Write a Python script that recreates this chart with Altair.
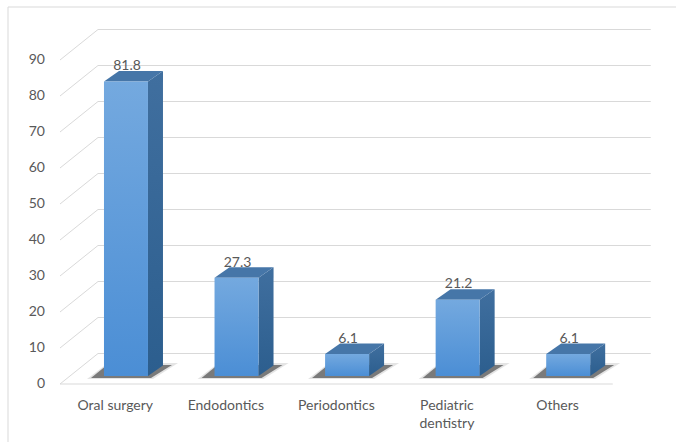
import altair as alt
import pandas as pd

# Share of cases by dental specialty (%)
categories = ["Oral surgery", "Endodontics", "Periodontics", "Pediatric\ndentistry", "Others"]
values = [81.8, 27.3, 6.1, 21.2, 6.1]
y_ticks = [0, 10, 20, 30, 40, 50, 60, 70, 80, 90]

# Plot geometry (data units of the x and y scales)
W, H = 597, 360
X_MAX, Y_MAX = 5.4, 100.0
PX_X = W / X_MAX          # pixels per x unit
PX_Y = H / Y_MAX          # pixels per y unit
WALL_DX, WALL_DY = 38 / PX_X, 30.5 / PX_Y    # depth of the floor / side wall
BAR_SHIFT = 10.7 / PX_X   # bars stand half-way into the floor
BAR_LIFT = 8 / PX_Y
BAR_HALF = 22 / PX_X
BAR_DX, BAR_DY = 15 / PX_X, 10.5 / PX_Y      # visible depth of each bar

FONT = "Lato"
TEXT = "#595959"
GRID = "#d9d9d9"

xs = alt.Scale(domain=[0, X_MAX], nice=False, zero=False)
ys = alt.Scale(domain=[0, Y_MAX], nice=False, zero=False)

bars = []
for i, (c, v) in enumerate(zip(categories, values)):
    mid = i + 0.5 + BAR_SHIFT
    bars.append(dict(cat=c, value=v, idx=i,
                     left=mid - BAR_HALF, right=mid + BAR_HALF, mid=mid,
                     base=BAR_LIFT, top=v + BAR_LIFT))
bar_df = pd.DataFrame(bars)


def px(dx=0.0, dy=0.0):
    return dx / PX_X, dy / PX_Y


side_rows, top_rows, shadow_rows, halo_rows = [], [], [], []
for b in bars:
    L, R, B, T = b["left"], b["right"], b["base"], b["top"]
    side_rows += [
        dict(cat=b["cat"], x=R, y=T, y2=B),
        dict(cat=b["cat"], x=R + BAR_DX, y=T + BAR_DY, y2=B + BAR_DY),
    ]
    top_rows += [
        dict(cat=b["cat"], y=T, x=L, x2=R),
        dict(cat=b["cat"], y=T + BAR_DY, x=L + BAR_DX, x2=R + BAR_DX),
    ]
    shadow_rows += [
        dict(cat=b["cat"], y=B - px(dy=2)[1], x=L - px(13)[0], x2=R + px(3)[0]),
        dict(cat=b["cat"], y=B + px(dy=11)[1], x=L + px(3)[0], x2=R + px(24)[0]),
    ]
    halo_rows += [
        dict(cat=b["cat"], y=B - px(dy=3)[1], x=L - px(17)[0], x2=R + px(5)[0]),
        dict(cat=b["cat"], y=B + px(dy=13)[1], x=L + px(4)[0], x2=R + px(30)[0]),
    ]
side_df = pd.DataFrame(side_rows)
top_df = pd.DataFrame(top_rows)
shadow_df = pd.DataFrame(shadow_rows)
halo_df = pd.DataFrame(halo_rows)

tick_df = pd.DataFrame(dict(t=y_ticks))
tick_df["tb"] = tick_df["t"] + WALL_DY
tick_df["x0"] = 0.0
tick_df["xb"] = WALL_DX
tick_df["xe"] = 5 + WALL_DX
tick_df["lab"] = tick_df["t"].astype(str)

floor_df = pd.DataFrame(dict(y=[0.0], x=[0.0], x2=[5.0]))
label_df = pd.DataFrame(dict(cat=categories, pos=[i + 0.5 for i in range(len(categories))]))

front_fill = alt.Gradient(gradient="linear", x1=0, x2=0, y1=0, y2=1,
                          stops=[alt.GradientStop(color="#74a9df", offset=0),
                                 alt.GradientStop(color="#4b8ed5", offset=1)])
side_fill = alt.Gradient(gradient="linear", x1=0, x2=0, y1=0, y2=1,
                         stops=[alt.GradientStop(color="#406f9f", offset=0),
                                alt.GradientStop(color="#2c5e8e", offset=1)])

X = lambda f: alt.X(f, scale=xs, axis=None)
Y = lambda f: alt.Y(f, scale=ys, axis=None)

frame = alt.Chart(floor_df).mark_rect(fill="white", stroke=GRID, strokeWidth=1).encode(
    x=alt.value(-52), x2=alt.value(640), y=alt.value(-17), y2=alt.value(430))

wall_grid = alt.Chart(tick_df).mark_rule(color=GRID, strokeWidth=1).encode(
    x=X("xb:Q"), x2="xe:Q", y=Y("tb:Q"))

side_grid = alt.Chart(tick_df).mark_rule(color=GRID, strokeWidth=1).encode(
    x=X("x0:Q"), x2="xb:Q", y=Y("t:Q"), y2="tb:Q")

tick_labels = alt.Chart(tick_df).mark_text(
    font=FONT, fontSize=14, color=TEXT, align="right", baseline="middle").encode(
    x=alt.value(-15), y=Y("t:Q"), text="lab:N")

floor_line = alt.Chart(floor_df).mark_rule(color=GRID, strokeWidth=1).encode(
    x=X("x:Q"), x2="x2:Q", y=Y("y:Q"))

halo = alt.Chart(halo_df).mark_area(orient="horizontal", color="#7a7a7a", opacity=0.2).encode(
    y=Y("y:Q"), x=X("x:Q"), x2="x2:Q", detail="cat:N")

shadow = alt.Chart(shadow_df).mark_area(orient="horizontal", color="#333333", opacity=0.6).encode(
    y=Y("y:Q"), x=X("x:Q"), x2="x2:Q", detail="cat:N")

side = alt.Chart(side_df).mark_area(color=side_fill).encode(
    x=X("x:Q"), y=Y("y:Q"), y2="y2:Q", detail="cat:N")

top = alt.Chart(top_df).mark_area(orient="horizontal", color="#4676a8").encode(
    y=Y("y:Q"), x=X("x:Q"), x2="x2:Q", detail="cat:N")

front = alt.Chart(bar_df).mark_rect(color=front_fill).encode(
    x=X("left:Q"), x2="right:Q", y=Y("base:Q"), y2="top:Q")

value_labels = alt.Chart(bar_df).transform_calculate(
    ly=f"datum.top + {BAR_DY} + 0.2",
    lx=f"datum.mid + {1 / PX_X}").mark_text(
    font=FONT, fontSize=14, color=TEXT, baseline="alphabetic", align="center").encode(
    x=X("lx:Q"), y=Y("ly:Q"),
    text=alt.Text("value:Q", format=".1f"))

cat_labels = alt.Chart(label_df).mark_text(
    font=FONT, fontSize=14, color=TEXT, baseline="alphabetic", align="center",
    lineBreak="\n", lineHeight=18).encode(
    x=X("pos:Q"), y=alt.value(386), text="cat:N")

chart = alt.layer(
    frame, side_grid, wall_grid, floor_line, tick_labels, halo, shadow, side, top, front,
    value_labels, cat_labels
).properties(
    width=W, height=H,
    autosize=alt.AutoSizeParams(type="none"),
    padding={"left": 60, "top": 24, "right": 19, "bottom": 58},
).configure_view(stroke=None).configure(background="white")

chart.save("out.html", embed_options={"renderer": "svg", "actions": False})
